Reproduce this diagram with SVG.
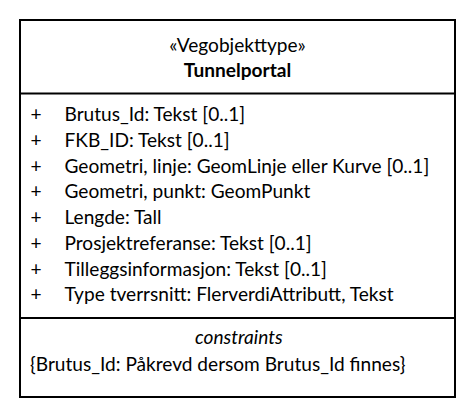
<svg xmlns="http://www.w3.org/2000/svg" width="476" height="418" viewBox="0 0 476 418">
  <style>
    .frame { fill: #ffffff; stroke: #000000; stroke-width: 2; }
    .sep { stroke: #000000; stroke-width: 2; }
    text { font-family: Lato, "Liberation Sans", sans-serif; font-size: 19.1px; fill: #000000; }
    .center { text-anchor: middle; }
    .bold { font-weight: bold; }
    .ital { font-style: italic; }
  </style>
  <rect width="476" height="418" fill="#ffffff"/>
  <g id="Tunnelportal">
    <rect class="frame" x="20" y="20" width="435" height="377"/>
    <line class="sep" x1="20" y1="93.5" x2="455" y2="93.5"/>
    <line class="sep" x1="20" y1="318" x2="455" y2="318"/>
    <!-- name compartment -->
    <text class="center" x="237.5" y="51.7">«Vegobjekttype»</text>
    <text class="center bold" x="237.5" y="76.7">Tunnelportal</text>
    <!-- attribute compartment -->
    <g id="attributes">
      <text x="30.5" y="121">+</text><text x="64.5" y="121">Brutus_Id: Tekst [0..1]</text>
      <text x="30.5" y="146.8">+</text><text x="64.5" y="146.8">FKB_ID: Tekst [0..1]</text>
      <text x="30.5" y="172.5">+</text><text x="64.5" y="172.5">Geometri, linje: GeomLinje eller Kurve [0..1]</text>
      <text x="30.5" y="198.3">+</text><text x="64.5" y="198.3">Geometri, punkt: GeomPunkt</text>
      <text x="30.5" y="224">+</text><text x="64.5" y="224">Lengde: Tall</text>
      <text x="30.5" y="249.8">+</text><text x="64.5" y="249.8">Prosjektreferanse: Tekst [0..1]</text>
      <text x="30.5" y="275.5">+</text><text x="64.5" y="275.5">Tilleggsinformasjon: Tekst [0..1]</text>
      <text x="30.5" y="301.3">+</text><text x="64.5" y="301.3">Type tverrsnitt: FlerverdiAttributt, Tekst</text>
    </g>
    <!-- constraint compartment -->
    <g id="constraints">
      <text class="center ital" x="238.8" y="344">constraints</text>
      <text x="30" y="370.7">{Brutus_Id: Påkrevd dersom Brutus_Id finnes}</text>
    </g>
  </g>
</svg>
